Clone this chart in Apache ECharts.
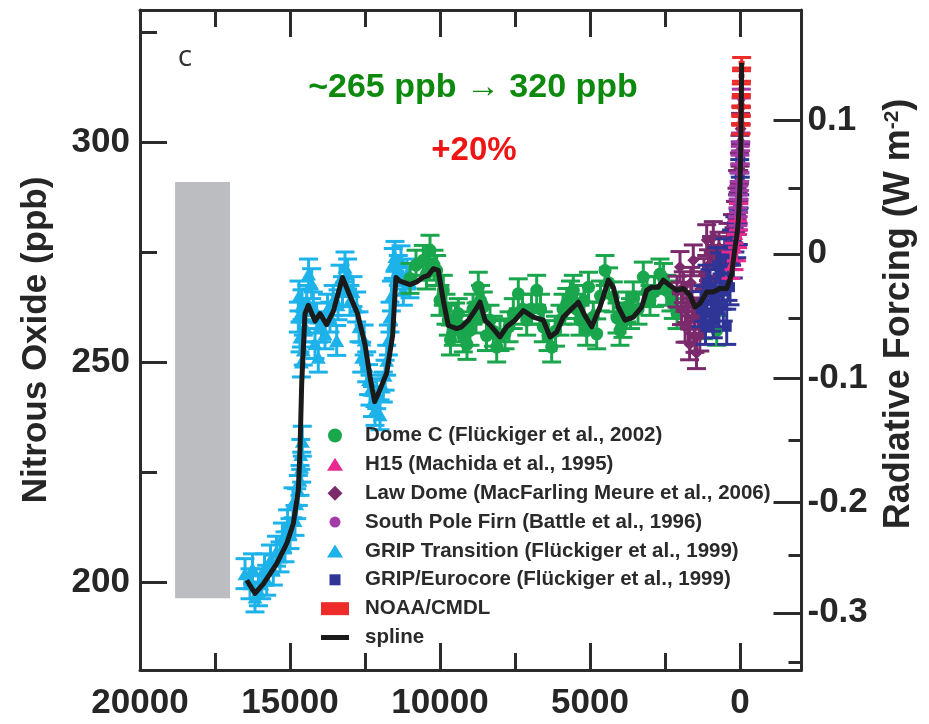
<!DOCTYPE html>
<html><head><meta charset="utf-8">
<script src="https://cdn.jsdelivr.net/npm/echarts@6/dist/echarts.min.js"></script>
<style>html,body{margin:0;padding:0;background:#fff}#c{width:929px;height:724px}</style>
</head><body><div id="c"></div>
<script>
// ---------- axis ticks / labels ----------
const xMajorTicks = [20000, 15000, 10000, 5000, 0];
const xMinorTicks = [17500, 12500, 7500, 2500];
const ppbMajorTicks = [200, 250, 300];
const ppbMinorTicks = [225, 275, 325];
const forcingMajorLabels = ['0.1', '0', '-0.1', '-0.2', '-0.3'];
const forcingMajorPpb = [304.9, 274.6, 246.2, 218.2, 193.0];
const forcingMinorLabels = ['0.05', '-0.05', '-0.15', '-0.25', '-0.35'];
const forcingMinorPpb = [289.4, 259.9, 232.2, 206.1, 181.8];

// ---------- gray band ----------
const grayBandYears = [18830, 17000];
const grayBandPpb = [196.3, 290.9];

// ---------- series names ----------
const domeCName = 'Dome C (Flückiger et al., 2002)';
const h15Name = 'H15 (Machida et al., 1995)';
const lawName = 'Law Dome (MacFarling Meure et al., 2006)';
const spfName = 'South Pole Firn (Battle et al., 1996)';
const gripTName = 'GRIP Transition (Flückiger et al., 1999)';
const gripEName = 'GRIP/Eurocore (Flückiger et al., 1999)';
const noaaName = 'NOAA/CMDL';
const splineName = 'spline';

// ---------- data: [years BP, ppb] ----------
const gripTransition = [
 [16500,201.9],[16333,199.6],[16250,203],[16167,196.6],[16050,198],[15943,199.6],[15850,203],[15777,200.4],
 [15650,205],[15557,202.7],[15450,207],[15333,205.7],[15250,210],[15167,208],[15080,213],[15000,211],
 [14900,218],[14833,214],[14777,217.8],[14723,220.8],[14667,223.1],[14640,229],[14610,226.1],[14590,232],
 [14557,252.7],[14620,250],[14667,255.7],[14723,260.2],[14700,265],[14600,263],[14500,258],[14443,264],
 [14380,270],[14277,267.8],[14223,262.5],[14167,254.2],[14110,260],[14057,251.1],[13950,258],[13833,256.4],
 [13750,262],[13667,260.2],[13560,264],[13443,254.9],[13400,263],[13333,268.6],[13250,266],[13167,271.6],
 [13080,270],[13000,264],[12900,266],[12777,262.5],[12700,258],[12610,251.1],[12530,255],[12443,248.9],
 [12380,246],[12333,243.6],[12250,241],[12167,239],[12110,242.8],[12000,238],[11890,244.3],[11830,247],
 [11777,250.4],[11720,255],[11667,260.2],[11620,265],[11557,272.4],[11500,274],[11390,270.8],[11300,273],
 [11223,266.3],[11100,270],[11000,268]
];
const domeC = [
 [11000,269],[10800,272],[10557,273.1],[10450,270],[10333,275.4],[10200,272],[10110,270.8],[10000,264],
 [9890,266.3],[9800,262],[9723,259.5],[9650,255],[9557,257.2],[9480,260],[9390,261],[9300,258],[9223,255.7],
 [9100,254],[9000,257.2],[8900,262],[8800,260],[8723,267],[8650,264],[8557,262.5],[8450,256],[8333,259.5],
 [8220,257],[8110,253.4],[8000,256],[7833,256.4],[7700,258],[7557,261],[7390,265.5],[7250,262],[7110,259.5],
 [6950,262],[6777,266.3],[6650,262],[6557,258],[6400,256],[6277,253.4],[6150,257],[6000,259.5],[5900,262],
 [5777,263.3],[5650,265],[5557,266.3],[5450,262],[5333,259.5],[5200,264],[5110,257.2],[5050,267],[4890,260.2],
 [4777,256.4],[4650,265],[4500,270.8],[4380,268],[4223,264.8],[4100,260],[4000,257.2],[3900,259],[3777,262.5],
 [3650,261],[3557,264.8],[3400,262],[3223,269.3],[3100,266],[3000,264],[2850,266],[2667,270],[2550,269],
 [2443,266.3],[2300,265],[2223,263.3],[2100,261],[1223,258.7],[777,257.2]
];
const lawDome = [
 [2100,266],[2000,271.6],[1950,262],[1890,267],[1830,258],[1777,262.5],[1723,258],[1680,254],[1640,268],
 [1600,264],[1557,273.1],[1530,260],[1500,255.7],[1450,252],[1390,261],[1340,256],[1277,267],[1200,270],
 [1110,277.7],[1050,272],[950,275],[890,278.4],[800,273],[700,276],[600,272],[500,275],[400,278],[300,276],
 [250,280],[200,277],[150,283],[120,280],[100,286],[80,290],[60,285],[40,290],[20,294],[0,298],[-20,303]
];
const gripEurocore = [
 [1300,262],[1223,263.3],[1150,258],[1100,268],[1000,267],[950,261],[890,259.5],[820,265],[760,272],
 [700,262],[667,270.8],[600,266],[557,263.3],[500,274],[443,258],[400,268],[333,267],[280,276],[223,273.1],
 [170,279],[110,277.7],[80,284],[57,280.7],[30,289],[10,292],[-10,296]
];
const southPoleFirn = [
 [80,281],[70,283],[60,285],[50,286],[40,288],[30,289],[20,291],[10,293],[0,295],[-10,297],[-20,300],
 [-25,302],[-30,304],[-35,306],[-40,308],[-45,310]
];
const h15 = [[300,272],[200,274],[120,276],[80,279],[50,283]];
const noaa = [[-25,303],[-30,305],[-35,307],[-40,309],[-45,312],[-50,315],[-55,318]];
const spline = [
 [16443,200.4],[16167,197.4],[15889,199.6],[15443,204.2],[15110,208.7],[14889,213.3],[14722,220.8],
 [14667,229.9],[14610,245.1],[14500,261],[14389,262.9],[14167,259.3],[14000,261],[13777,258.5],[13557,261.5],
 [13250,269.2],[13000,265],[12750,261],[12500,254],[12333,246.6],[12180,241],[12057,242.8],[11777,247.5],
 [11580,256],[11470,269.2],[11333,268.4],[11000,267.6],[10777,268.2],[10557,269.3],[10390,269.7],[10223,271.2],
 [10057,270.8],[9890,264],[9723,258.3],[9443,257.6],[9277,258],[9057,259.5],[8833,261.7],[8667,263.6],
 [8500,259.5],[8277,258],[8000,255.7],[7777,258],[7500,259.5],[7223,261.7],[6890,260.2],[6557,259.5],
 [6333,255.7],[6110,256.8],[5890,260.2],[5610,262.1],[5390,263.6],[5167,260.5],[4943,258],[4667,262.5],
 [4390,268.6],[4223,267],[4057,262.5],[3833,259.5],[3557,260.2],[3277,262.5],[3110,266.3],[2943,267],
 [2723,267],[2557,268.6],[2333,267.4],[2110,266.3],[1890,266.7],[1667,265.2],[1500,262.5],[1333,263.3],
 [1110,265.9],[890,265.9],[667,266.7],[443,266.7],[277,270],[167,276],[100,279],[57,282],[20,287],[0,290],
 [-20,296],[-30,301],[-40,307],[-50,314],[-55,318]
];
// error half-widths (ppb) per record
const gripTErr = 3.4, domeCErr = 3.4, lawErr = 3.5, gripEErr = 4, spfErr = 2, h15Err = 3, noaaErr = 1.2;

const FONT = '"Liberation Sans", Arial, Helvetica, sans-serif';
const AX = '#2b2b2b';

function errSeries(name, data, err, color, z) {
  return {
    type: 'custom', name: name + ' err', silent: true, z: z, clip: false,
    data: data, encode: {x: 0, y: 1},
    renderItem: function (params, api) {
      const x = api.value(0), y = api.value(1);
      const t = api.coord([x, y + err]);
      const b = api.coord([x, y - err]);
      const hw = 9.5;
      const st = {stroke: color, lineWidth: 3};
      return {type: 'group', children: [
        {type: 'line', shape: {x1: t[0], y1: t[1], x2: b[0], y2: b[1]}, style: st},
        {type: 'line', shape: {x1: t[0] - hw, y1: t[1], x2: t[0] + hw, y2: t[1]}, style: st},
        {type: 'line', shape: {x1: b[0] - hw, y1: b[1], x2: b[0] + hw, y2: b[1]}, style: st}
      ]};
    }
  };
}
function ptSeries(name, data, symbol, size, color, z) {
  return {type: 'scatter', name: name, data: data, symbol: symbol, symbolSize: size,
    itemStyle: {color: color, opacity: 1}, z: z, silent: true};
}

const C = {
  gripT: '#1db3ea', domeC: '#1aa64d', law: '#7b2a6c', gripE: '#2f3596',
  spf: '#a53ba7', h15: '#e8298f', noaa: '#ee2b2b', spline: '#1a1a1a'
};

const series = [
  errSeries(gripTName, gripTransition, gripTErr, C.gripT, 2),
  ptSeries(gripTName, gripTransition, 'triangle', [15, 13], C.gripT, 2),
  errSeries(domeCName, domeC, domeCErr, C.domeC, 3),
  ptSeries(domeCName, domeC, 'circle', 13, C.domeC, 3),
  errSeries(lawName, lawDome, lawErr, C.law, 4),
  ptSeries(lawName, lawDome, 'diamond', 12, C.law, 4),
  errSeries(gripEName, gripEurocore, gripEErr, C.gripE, 5),
  ptSeries(gripEName, gripEurocore, 'rect', 10, C.gripE, 5),
  errSeries(spfName, southPoleFirn, spfErr, C.spf, 6),
  ptSeries(spfName, southPoleFirn, 'circle', 9, C.spf, 6),
  errSeries(h15Name, h15, h15Err, C.h15, 6),
  ptSeries(h15Name, h15, 'triangle', 11, C.h15, 6),
  errSeries(noaaName, noaa, noaaErr, C.noaa, 7),
  ptSeries(noaaName, noaa, 'rect', [6, 4], C.noaa, 7),
  {
    type: 'line', name: splineName, data: spline, symbol: 'none', z: 9, silent: true,
    color: C.spline, lineStyle: {color: C.spline, width: 5, join: 'round'},
    itemStyle: {color: C.spline},
    markArea: {silent: true, itemStyle: {color: '#bcbdc0', opacity: 1}, label: {show: false},
      data: [[{coord: [grayBandYears[0], grayBandPpb[1]]}, {coord: [grayBandYears[1], grayBandPpb[0]]}]]}
  }
];

const legendItems = [
  {name: domeCName, icon: 'circle', w: 14, h: 14},
  {name: h15Name, icon: 'triangle', w: 16, h: 13},
  {name: lawName, icon: 'diamond', w: 15, h: 15},
  {name: spfName, icon: 'circle', w: 11, h: 11},
  {name: gripTName, icon: 'triangle', w: 16, h: 13},
  {name: gripEName, icon: 'rect', w: 11, h: 11},
  {name: noaaName, icon: 'rect', w: 28, h: 13},
  {name: splineName, icon: 'rect', w: 28, h: 5}
];
const legend = legendItems.map(function (it, i) {
  return {
    data: [{name: it.name, icon: it.icon}], orient: 'vertical', selectedMode: false, padding: 0,
    left: 335 - it.w / 2, top: 435 + i * 28.86 - 10, itemWidth: it.w, itemHeight: it.h,
    textStyle: {fontFamily: FONT, fontWeight: 'bold', fontSize: 20.5, color: '#2a2a2a', lineHeight: 20,
      padding: [0, 0, 0, 365 - (335 + it.w / 2) - 5]}
  };
});

const tickStyle = {color: AX, width: 3};
const labelBase = {fontFamily: FONT, fontWeight: 'bold', fontSize: 35, color: '#262626'};
function xAx(pos, ticks, len, withLabels, withLine) {
  return {
    type: 'value', position: pos, min: -2050, max: 20000, inverse: true,
    axisLine: {show: withLine, onZero: false, lineStyle: {color: AX, width: 3}},
    axisTick: {show: true, inside: true, length: len, customValues: ticks, lineStyle: tickStyle},
    axisLabel: withLabels ? Object.assign({show: true, customValues: ticks, margin: 16,
      formatter: function (v) { return String(v); }}, labelBase) : {show: false},
    splitLine: {show: false}
  };
}
function yAx(pos, ticks, len, labelOpt, withLine, extra) {
  return Object.assign({
    type: 'value', position: pos, min: 180, max: 330,
    axisLine: {show: withLine, onZero: false, lineStyle: {color: AX, width: 3}},
    axisTick: {show: true, inside: true, length: len, customValues: ticks, lineStyle: tickStyle},
    axisLabel: labelOpt || {show: false},
    splitLine: {show: false}
  }, extra || {});
}

const option = {
  animation: false,
  backgroundColor: '#ffffff',
  grid: {left: 140, right: 127.5, top: 10, bottom: 54, containLabel: false},
  legend: legend,
  xAxis: [
    xAx('bottom', xMajorTicks, 27, true, true),
    xAx('bottom', xMinorTicks, 17, false, false),
    xAx('top', xMajorTicks, 27, false, true),
    xAx('top', xMinorTicks, 17, false, false)
  ],
  yAxis: [
    yAx('left', ppbMajorTicks, 27, Object.assign({show: true, customValues: ppbMajorTicks, margin: 10}, labelBase), true, {
      name: 'Nitrous Oxide (ppb)', nameLocation: 'middle', nameGap: 86,
      nameTextStyle: {fontFamily: FONT, fontWeight: 'bold', fontSize: 35, color: '#262626'}
    }),
    yAx('left', ppbMinorTicks, 17, null, false),
    yAx('right', forcingMajorPpb, 28, Object.assign({show: true, customValues: forcingMajorPpb, margin: 6,
      formatter: function (v) { const i = forcingMajorPpb.indexOf(v); return i >= 0 ? forcingMajorLabels[i] : ''; }}, labelBase), true, {
      name: 'Radiative Forcing (W m{sup|-2})', nameLocation: 'middle', nameGap: 80,
      nameTextStyle: {fontFamily: FONT, fontWeight: 'bold', fontSize: 36, color: '#262626', padding: [0, 0, 0, 52],
        rich: {sup: {fontFamily: FONT, fontWeight: 'bold', fontSize: 21, color: '#262626', verticalAlign: 'top'}}}
    }),
    yAx('right', forcingMinorPpb, 13, null, false)
  ],
  graphic: [
    {type: 'text', x: 185, y: 57, silent: true,
      style: {text: 'c', font: '30px "Open Sans", "Noto Sans", sans-serif', fill: '#333', align: 'center', verticalAlign: 'middle'}},
    {type: 'text', x: 473, y: 88, silent: true,
      style: {text: '~265 ppb \u2192 320 ppb', font: 'bold 34px ' + FONT, fill: '#0d8a0d', align: 'center', verticalAlign: 'middle'}},
    {type: 'text', x: 474, y: 151, silent: true,
      style: {text: '+20%', font: 'bold 33px ' + FONT, fill: '#f01414', align: 'center', verticalAlign: 'middle'}}
  ],
  series: series
};
const chart = echarts.init(document.getElementById('c'), null, {renderer: 'canvas'});
chart.setOption(option);
</script>
</body></html>
